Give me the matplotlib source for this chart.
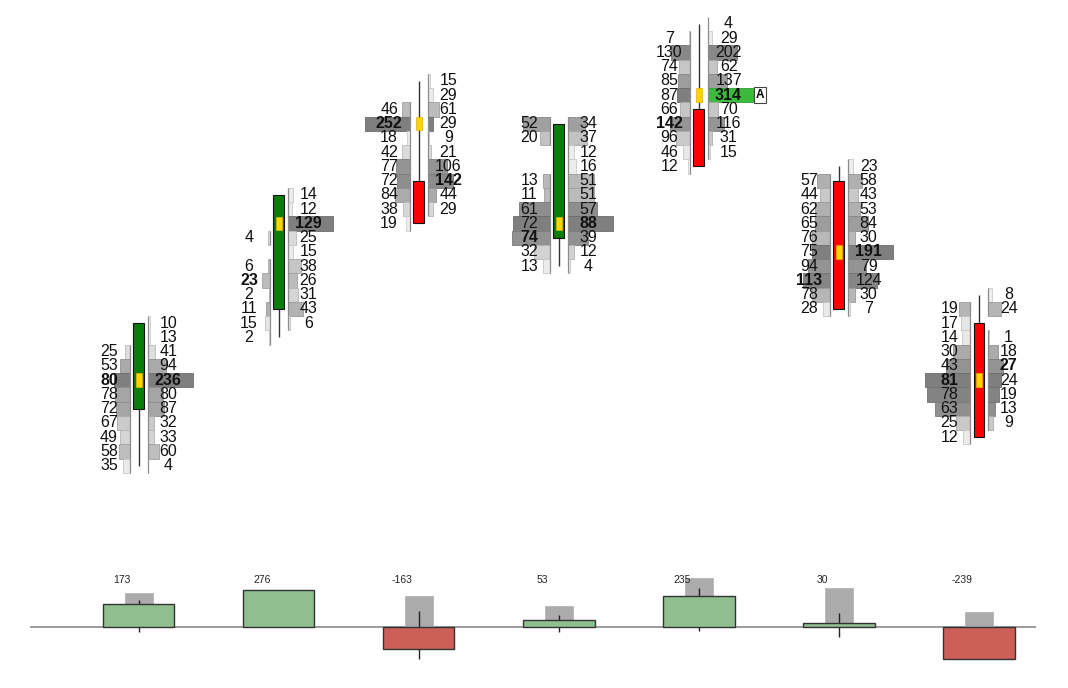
import numpy as np
import matplotlib
matplotlib.use("Agg")
import matplotlib.pyplot as plt
from matplotlib.colors import to_rgb

plt.rcParams['font.family'] = ['Liberation Sans', 'DejaVu Sans']

## Data: price levels are in ticks (0 = lowest level shown)

candles = [0, 1, 2, 3, 4, 5, 6]
opens = [4, 11, 20, 16, 25, 20, 10]
highs = [10, 19, 27, 24, 31, 21, 12]
lows = [0, 9, 17, 14, 21, 11, 2]
closes = [10, 19, 17, 24, 21, 11, 2]

# ask / bid volume per level, listed from the top level downwards
ask_top = [10, 19, 27, 24, 31, 21, 12]
ask_vol = [
    [10, 13, 41, 94, 236, 80, 87, 32, 33, 60, 4],
    [14, 12, 129, 25, 15, 38, 26, 31, 43, 6],
    [15, 29, 61, 29, 9, 21, 106, 142, 44, 29],
    [34, 37, 12, 16, 51, 51, 57, 88, 39, 12, 4],
    [4, 29, 202, 62, 137, 314, 70, 116, 31, 15],
    [23, 58, 43, 53, 84, 30, 191, 79, 124, 30, 7],
    [8, 24, None, 1, 18, 27, 24, 19, 13, 9],
]
bid_top = [8, 16, 25, 24, 30, 20, 11]
bid_vol = [
    [25, 53, 80, 78, 72, 67, 49, 58, 35],
    [4, None, 6, 23, 2, 11, 15, 2],
    [46, 252, 18, 42, 77, 72, 84, 38, 19],
    [52, 20, None, None, 13, 11, 61, 72, 74, 32, 13],
    [7, 130, 74, 85, 87, 66, 142, 96, 46, 12],
    [57, 44, 62, 65, 76, 75, 94, 113, 78, 28],
    [19, 17, 14, 30, 43, 81, 78, 63, 25, 12],
]
# imbalance highlight (candle, ask level) with its tag
highlight = (4, 26, "A")

# lower pane
delta = [173, 276, -163, 53, 235, 30, -239]
delta_ref = [256, 220, 233, 158, 368, 293, 113]
delta_hi = [203, 250, 120, 90, 293, 105, 0]
delta_lo = [-35, 0, -240, -38, -30, -75, -200]

## Figure

fig = plt.figure(figsize=(10.68, 6.88), dpi=100)
ax = fig.add_axes([0, 148 / 688, 1, 540 / 688])
axd = fig.add_axes([0, 0, 1, 143 / 688])
for a in (ax, axd):
    a.set_xlim(-0.990, 6.6355)
    a.axis('off')
ax.set_ylim(-5.21, 32.68)
axd.set_ylim(-458.6, 616.5)

# grey ramp for a level, by its share of the busiest level of the candle
ramp_x = [0.0, 0.15, 0.33, 0.45, 0.6, 0.8, 1.0]
ramp_g = [244, 232, 200, 172, 152, 138, 127]

def shade(frac):
    g = np.interp(frac, ramp_x, ramp_g) / 255
    return (g, g, g)

def darker(c, k=0.85):
    return tuple(np.array(to_rgb(c)) * k)

gap = 0.064      # distance from candle centre to bar base
max_w = 0.321    # width of the largest bar in a candle
lab_off = 0.212  # label centre offset
fs = 11.5

for i in candles:
    asks = [(ask_top[i] - k, v) for k, v in enumerate(ask_vol[i]) if v is not None]
    bids = [(bid_top[i] - k, v) for k, v in enumerate(bid_vol[i]) if v is not None]
    vmax = max(v for _, v in asks + bids)
    amax = max(v for _, v in asks)
    bmax = max(v for _, v in bids)
    totals = {}
    for lvl, v in asks + bids:
        totals[lvl] = totals.get(lvl, 0) + v
    tmax = max(totals.values())

    for lvl, v in asks:
        c = shade(totals[lvl] / tmax)
        if (i, lvl) == highlight[:2]:
            c = '#3cba3c'
        ax.barh(lvl, v / vmax * max_w, height=1.0, left=i + gap, color=c,
                edgecolor=darker(c), linewidth=0.6, zorder=2)
        ax.vlines(i + gap, lvl - 0.5, lvl + 0.5, color='#8c8c8c', lw=0.9, zorder=3)
        ax.text(i + lab_off, lvl, str(v), ha='center', va='center', fontsize=fs,
                fontweight='bold' if v == amax else 'normal', color='#111111', zorder=5)
    for lvl, v in bids:
        c = shade(totals[lvl] / tmax)
        ax.barh(lvl, -v / vmax * max_w, height=1.0, left=i - gap, color=c,
                edgecolor=darker(c), linewidth=0.6, zorder=2)
        ax.vlines(i - gap, lvl - 0.5, lvl + 0.5, color='#8c8c8c', lw=0.9, zorder=3)
        ax.text(i - lab_off, lvl, str(v), ha='center', va='center', fontsize=fs,
                fontweight='bold' if v == bmax else 'normal', color='#111111', zorder=5)

    # candle
    ax.vlines(i, lows[i], highs[i], color='#333333', lw=1.0, zorder=3)
    up = closes[i] >= opens[i]
    ax.bar(i, closes[i] - opens[i], bottom=opens[i], width=0.078,
           color='#0a7d0a' if up else '#ff0000', edgecolor='#111111', linewidth=0.8, zorder=4)

    # point of control
    poc = max(totals, key=totals.get)
    ax.bar(i, 0.95, bottom=poc - 0.475, width=0.043, color='#ffd400',
           edgecolor='#e8b000', linewidth=0.5, zorder=5)

hi_c, hi_l, tag = highlight
ax.text(hi_c + 0.436, hi_l, tag, ha='center', va='center', fontsize=8.5, fontweight='bold',
        bbox=dict(boxstyle='square,pad=0.15', facecolor='white', edgecolor='#444444', lw=0.8),
        zorder=6)

## Delta pane

axd.hlines(0, -0.776, 6.407, color='#8a8a8a', lw=1.2, zorder=1)
axd.bar(candles, delta_ref, width=0.2, color='#ababab', edgecolor='#b5b5b5', lw=0.6, zorder=2)
axd.vlines(candles, delta_lo, delta_hi, color='#222222', lw=1.0, zorder=3)
axd.bar(candles, delta, width=0.51,
        color=['#8fbf8f' if d >= 0 else '#cd5f58' for d in delta],
        edgecolor='#333333', lw=1.0, zorder=4)
for i, d in zip(candles, delta):
    axd.text(i - 0.12, 353, str(d), ha='center', va='center', fontsize=7.5, color='#222222')

fig.savefig('out.png', dpi=100, facecolor='white')
